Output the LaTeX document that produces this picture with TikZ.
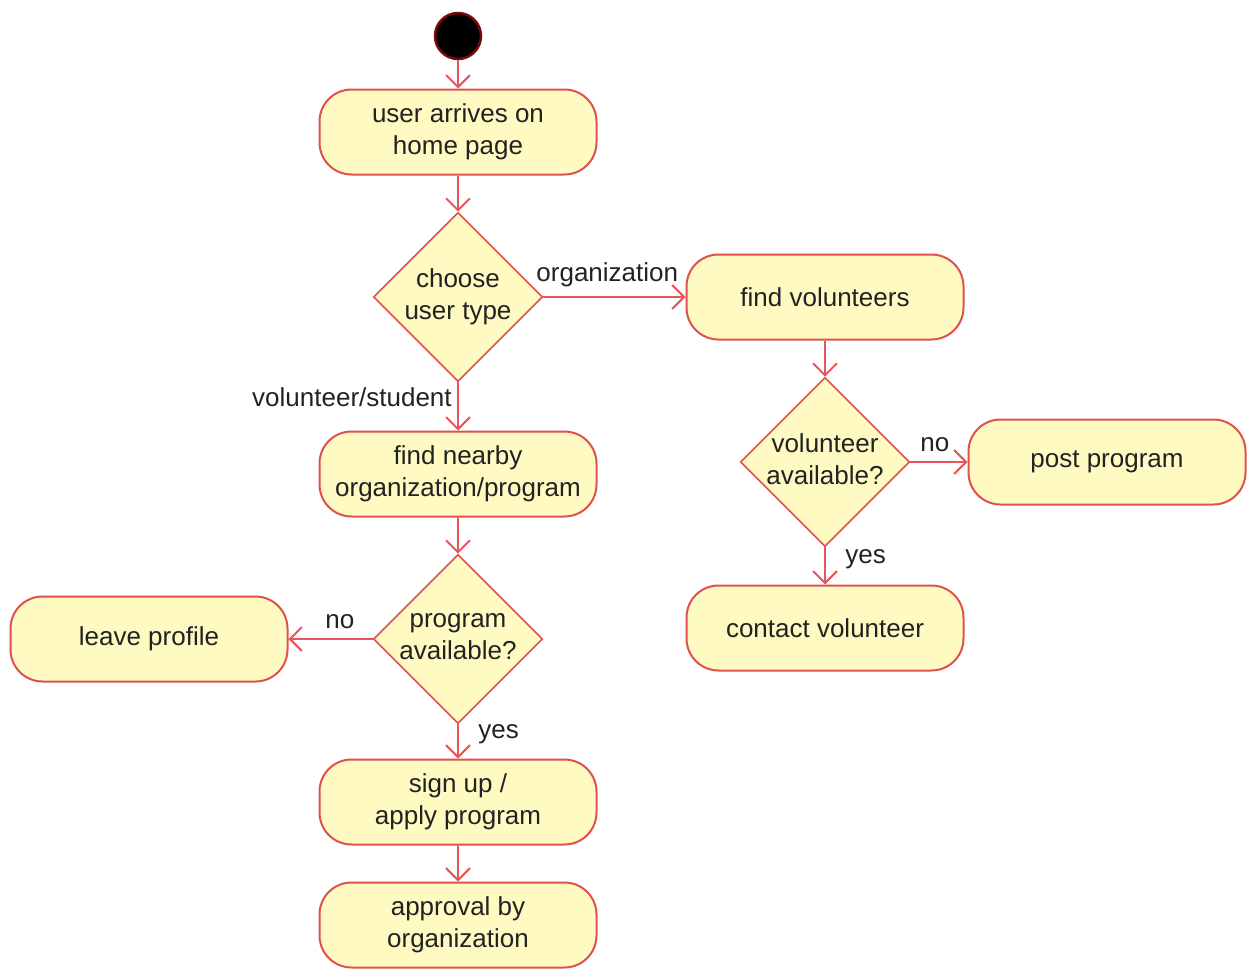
\documentclass[tikz,border=0pt]{standalone}
\usepackage{fontspec}
\setmainfont{Liberation Sans}
\usetikzlibrary{shapes.geometric,arrows.meta}
\definecolor{boxfill}{HTML}{FEFAC2}
\definecolor{boxline}{HTML}{E0504F}
\definecolor{flowline}{HTML}{E8565C}
\definecolor{txt}{HTML}{222222}
\definecolor{startline}{HTML}{7A0A0A}
\begin{document}
\begin{tikzpicture}[x=1pt,y=-1pt,
  every node/.style={font=\fontsize{26}{32}\selectfont, text=txt},
  activity/.style={draw=boxline, line width=2pt, fill=boxfill, rounded corners=32pt,
    minimum width=277pt, minimum height=85pt, align=center, inner sep=0pt},
  decision/.style={diamond, draw=boxline, line width=1.6pt, fill=boxfill,
    minimum width=169pt, minimum height=169pt, inner sep=0pt},
  flow/.style={draw=flowline, line width=2.6pt,
    -{Straight Barb[length=12pt,width=24pt,line width=2pt]}},
  lbl/.style={inner sep=5pt},
  uplbl/.style={inner sep=5pt, above, yshift=4pt},
  rlbl/.style={inner sep=0pt, right, xshift=19pt}
]
\useasboundingbox (0,0) rectangle (1254,969);

\node[circle, fill=black, draw=startline, line width=2.5pt, minimum size=46pt, inner sep=0pt] (start) at (458,36) {};
\node[activity] (home) at (458,132) {user arrives on\\home page};
\node[decision, label={[align=center]center:choose\\user type}] (utype) at (458,297) {};
\node[activity] (findvol) at (825,297) {find volunteers};
\node[activity] (findorg) at (458,474) {find nearby\\organization/program};
\node[decision, label={[align=center, yshift=2pt]center:program\\available?}] (progav) at (458,639) {};
\node[activity] (leave) at (149,639) {leave profile};
\node[activity] (signup) at (458,802) {sign up /\\apply program};
\node[activity] (approval) at (458,925) {approval by\\organization};
\node[decision, label={[align=center, yshift=3pt]center:volunteer\\available?}] (volav) at (825,462) {};
\node[activity] (post) at (1107,462) {post program};
\node[activity] (contact) at (825,628) {contact volunteer};

\draw[flow] (start) -- (home);
\draw[flow] (home) -- (utype);
\draw[flow] (utype) -- node[uplbl, pos=0.45] {organization} (findvol);
\draw[flow] (utype) -- node[lbl, pos=0.3, left] {volunteer/student} (findorg);
\draw[flow] (findorg) -- (progav);
\draw[flow] (progav) -- node[uplbl, pos=0.39] {no} (leave);
\draw[flow] (progav) -- node[rlbl, pos=0.3] {yes} (signup);
\draw[flow] (signup) -- (approval);
\draw[flow] (findvol) -- (volav);
\draw[flow] (volav) -- node[uplbl, pos=0.43] {no} (post);
\draw[flow] (volav) -- node[rlbl, pos=0.33] {yes} (contact);
\end{tikzpicture}
\end{document}
